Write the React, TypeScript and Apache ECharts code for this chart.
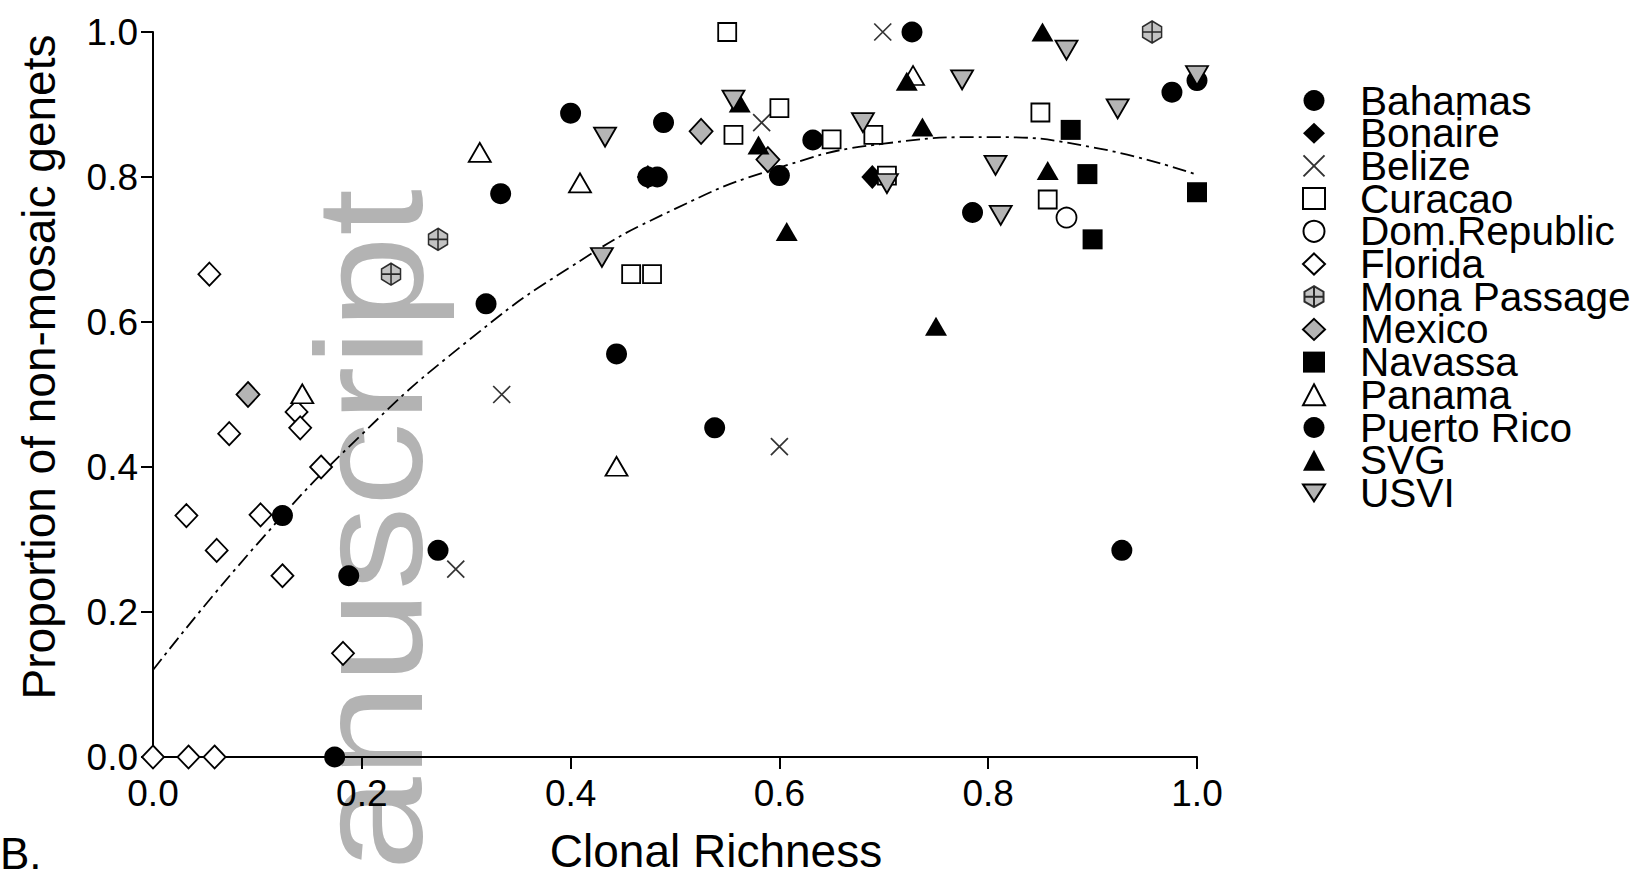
import React, { useEffect, useRef } from "react";
import * as echarts from "echarts";

const FONT = "'Liberation Sans', Arial, Helvetica, sans-serif";
const GRAY = "#b4b4b4";

// Axis ticks
const xTicks = [0, 0.2, 0.4, 0.6, 0.8, 1.0];
const yTicks = [0, 0.2, 0.4, 0.6, 0.8, 1.0];

// Legend order
const countries = [
  "Bahamas", "Bonaire", "Belize", "Curacao", "Dom.Republic", "Florida",
  "Mona Passage", "Mexico", "Navassa", "Panama", "Puerto Rico", "SVG", "USVI",
];

// [clonal richness, proportion of non-mosaic genets]
const bahamas = [[0.400, 0.888], [0.489, 0.875], [0.632, 0.851], [0.727, 1.0], [0.976, 0.917], [1.0, 0.933]];
const bonaire = [[0.474, 0.800], [0.689, 0.800]];
const belize = [[0.290, 0.259], [0.334, 0.500], [0.583, 0.875], [0.600, 0.428], [0.699, 1.0]];
const curacao = [[0.458, 0.666], [0.478, 0.666], [0.550, 1.0], [0.556, 0.858], [0.600, 0.895], [0.650, 0.852], [0.690, 0.858], [0.703, 0.802], [0.850, 0.889], [0.857, 0.769]];
const domRepublic = [[0.875, 0.744]];
const florida = [[0, 0], [0.034, 0], [0.059, 0], [0.032, 0.333], [0.054, 0.666], [0.061, 0.285], [0.073, 0.446], [0.103, 0.334], [0.124, 0.250], [0.1375, 0.476], [0.141, 0.454], [0.161, 0.400], [0.182, 0.143]];
const monaPassage = [[0.228, 0.666], [0.273, 0.714], [0.957, 1.0]];
const mexico = [[0.091, 0.500], [0.525, 0.863], [0.589, 0.824]];
const navassa = [[0.879, 0.865], [0.895, 0.804], [0.900, 0.714], [1.0, 0.779]];
const panama = [[0.143, 0.501], [0.313, 0.834], [0.409, 0.792], [0.444, 0.401], [0.728, 0.940]];
const puertoRico = [[0.333, 0.777], [0.319, 0.625], [0.444, 0.556], [0.124, 0.333], [0.1875, 0.250], [0.273, 0.285], [0.174, 0], [0.538, 0.454], [0.928, 0.285], [0.474, 0.800], [0.483, 0.800], [0.600, 0.802], [0.785, 0.751]];
const svgIsland = [[0.562, 0.902], [0.580, 0.844], [0.607, 0.725], [0.722, 0.932], [0.737, 0.869], [0.750, 0.594], [0.852, 1.0], [0.857, 0.809]];
const usvi = [[0.430, 0.689], [0.433, 0.855], [0.556, 0.906], [0.680, 0.875], [0.703, 0.791], [0.775, 0.934], [0.807, 0.816], [0.812, 0.747], [0.875, 0.975], [0.924, 0.894], [1.0, 0.940]];

// Fitted trend curve
const trendX = [0, 0.1, 0.2, 0.3, 0.4, 0.5, 0.6, 0.7, 0.8, 0.9, 1.0];
const trendY = [0.120, 0.294, 0.445, 0.572, 0.676, 0.756, 0.813, 0.846, 0.855, 0.841, 0.803];

const CROSS = "path://M0,0L10,10M10,0L0,10";
const HEX = "path://M5,0L10,2.9L10,8.1L5,11L0,8.1L0,2.9ZM5,0L5,11M0,5.5L10,5.5";
const DOWN_TRI = "path://M0,0L11,0L5.5,8.5Z";

function sc(name: string, data: number[][], symbol: string, symbolSize: any, itemStyle: any, extra: any = {}) {
  return {
    type: "scatter",
    name,
    data,
    symbol,
    symbolSize,
    itemStyle,
    clip: false,
    z: 3,
    emphasis: { disabled: true },
    ...extra,
  };
}

const filled = (c: string) => ({ color: c, borderColor: "#000", borderWidth: 0, opacity: 1 });
const open = (fill: string) => ({ color: fill, borderColor: "#000", borderWidth: 1.8, opacity: 1 });

function buildOption() {
  const axisCommon = (margin: number, extraLabel: any = {}) => ({
    type: "value",
    min: 0,
    max: 1,
    interval: 0.2,
    axisLine: { show: true, onZero: false, lineStyle: { color: "#000", width: 2 } },
    axisTick: { show: true, inside: false, length: 12, lineStyle: { color: "#000", width: 2 } },
    axisLabel: {
      show: true,
      showMinLabel: true,
      showMaxLabel: true,
      formatter: (v: number) => v.toFixed(1),
      fontSize: 37,
      color: "#000",
      fontFamily: FONT,
      margin,
      ...extraLabel,
    },
    splitLine: { show: false },
  });

  const legendData = countries.map((name) =>
    name === "USVI" ? { name, icon: DOWN_TRI } : { name }
  );

  return {
    animation: false,
    backgroundColor: "#fff",
    textStyle: { fontFamily: FONT },
    grid: { left: 153, right: 435, top: 32, bottom: 121, containLabel: false, outerBoundsMode: "none" },
    xAxis: axisCommon(18),
    yAxis: axisCommon(15, { padding: [0, 0, 7, 0] }),
    legend: {
      show: true,
      orient: "vertical",
      left: 1296,
      top: 75,
      itemWidth: 22,
      itemHeight: 21,
      itemGap: -8.3,
      data: legendData,
      selectedMode: false,
      textStyle: { fontSize: 40.6, color: "#000", fontFamily: FONT, padding: [0, 0, 0, 30] },
    },
    graphic: [
      {
        type: "text",
        x: 369,
        y: 530,
        rotation: Math.PI / 2,
        scaleY: 0.9,
        z: -10,
        silent: true,
        style: {
          text: "anuscript",
          fontSize: 168,
          fontFamily: FONT,
          fill: "#b3b3b3",
          textAlign: "center",
          textVerticalAlign: "middle",
          align: "center",
          verticalAlign: "middle",
        },
      },
      {
        type: "text",
        x: 39,
        y: 367,
        rotation: Math.PI / 2,
        silent: true,
        style: {
          text: "Proportion of non-mosaic genets",
          fontSize: 46,
          fontFamily: FONT,
          fill: "#000",
          textAlign: "center",
          textVerticalAlign: "middle",
          align: "center",
          verticalAlign: "middle",
        },
      },
      {
        type: "text",
        x: 716,
        y: 851,
        silent: true,
        style: {
          text: "Clonal Richness",
          fontSize: 46,
          fontFamily: FONT,
          fill: "#000",
          textAlign: "center",
          textVerticalAlign: "middle",
          align: "center",
          verticalAlign: "middle",
        },
      },
      {
        type: "text",
        x: 0,
        y: 853,
        silent: true,
        style: {
          text: "B.",
          fontSize: 44,
          fontFamily: FONT,
          fill: "#000",
          textAlign: "left",
          textVerticalAlign: "middle",
          align: "left",
          verticalAlign: "middle",
        },
      },
    ],
    series: [
      {
        type: "line",
        name: "trend",
        data: trendX.map((x, i) => [x, trendY[i]]),
        showSymbol: false,
        symbol: "none",
        smooth: true,
        clip: false,
        z: 2,
        silent: true,
        lineStyle: { color: "#000", width: 1.8, type: [14, 5, 3, 5] },
      },
      sc("Bahamas", bahamas, "circle", 21, filled("#000")),
      sc("Bonaire", bonaire, "diamond", [22, 24], filled("#000")),
      sc("Belize", belize, CROSS, 17, { color: "none", borderColor: "#000", borderWidth: 1.7 }),
      sc("Curacao", curacao, "rect", 18, open("#fff")),
      sc("Dom.Republic", domRepublic, "circle", 20, open("#fff")),
      sc("Florida", florida, "diamond", [22, 23], open("#fff")),
      sc("Mona Passage", monaPassage, HEX, [19, 22], { color: GRAY, borderColor: "#000", borderWidth: 1.6 }),
      sc("Mexico", mexico, "diamond", [23, 25], open(GRAY)),
      sc("Navassa", navassa, "rect", 20, filled("#000")),
      sc("Panama", panama, "triangle", [22, 19], open("#fff")),
      sc("Puerto Rico", puertoRico, "circle", 21, filled("#000")),
      sc("SVG", svgIsland, "triangle", [22, 19], filled("#000")),
      sc("USVI", usvi, "triangle", [22, 19], open(GRAY), { symbolRotate: 180 }),
    ],
  };
}

export default function App() {
  const ref = useRef<HTMLDivElement>(null);
  useEffect(() => {
    if (!ref.current) return;
    const chart = echarts.init(ref.current, null, { renderer: "svg" });
    chart.setOption(buildOption() as any);
    return () => chart.dispose();
  }, []);
  return (
    <div
      ref={ref}
      style={{ position: "fixed", left: 0, top: 0, width: 1632, height: 878, background: "#fff" }}
    />
  );
}
